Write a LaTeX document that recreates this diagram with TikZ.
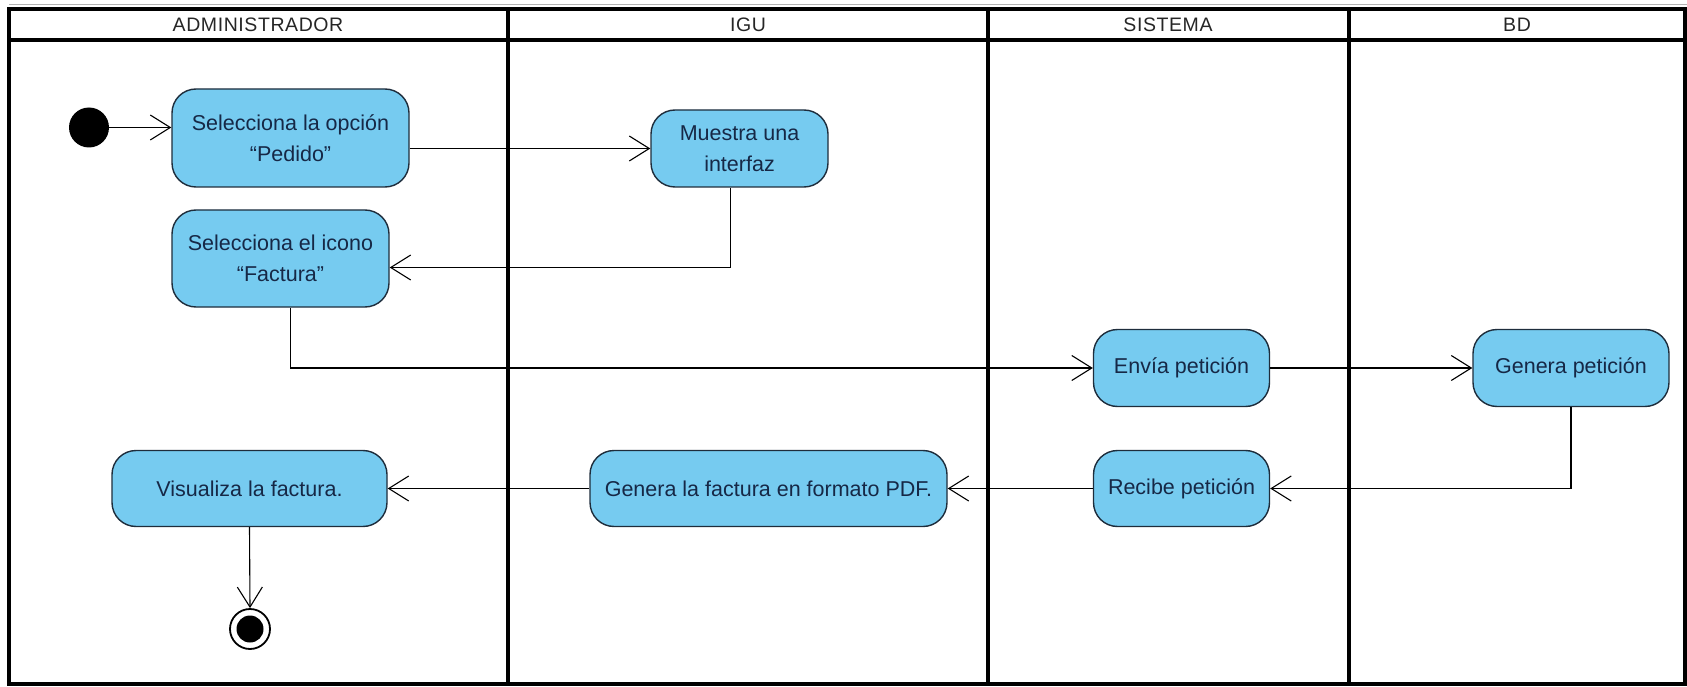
\documentclass[tikz,border=0pt]{standalone}
\usepackage{fontspec}
\setmainfont{Liberation Sans}
\usetikzlibrary{arrows.meta}
\definecolor{actfill}{RGB}{118,203,240}
\definecolor{acttext}{RGB}{22,40,70}
\definecolor{actline}{RGB}{30,45,60}
\begin{document}
\begin{tikzpicture}[x=1pt,y=-1pt,
  act/.style={draw=actline, line width=1.4pt, fill=actfill, rounded corners=24pt,
    text=acttext, font=\fontsize{21.5}{31}\selectfont, align=center, inner sep=0pt},
  lane/.style={draw=black, line width=3.2pt},
  head/.style={font=\fontsize{19.5}{22}\selectfont\addfontfeature{LetterSpace=3}, text=black!85},
  flow/.style={draw=black, line width=1.1pt, -{Straight Barb[length=20pt,width=25pt]}}]
\useasboundingbox (0,0) rectangle (1687,687);
% swimlanes
\draw[black!30, line width=1pt] (9,5) -- (1687,5);
\draw[lane] (9,9) rectangle (1685,684);
\draw[lane] (9,40) -- (1685,40);
\draw[lane] (508,9) -- (508,684);
\draw[lane] (988,9) -- (988,684);
\draw[lane] (1349,9) -- (1349,684);
\node[head] (hAdm) at (258,24.5) {ADMINISTRADOR};
\node[head] (hIgu) at (748,24.5) {IGU};
\node[head] (hSis) at (1168,24.5) {SISTEMA};
\node[head] (hBd)  at (1517,24.5) {BD};
% nodes
\node[circle, fill=black, minimum size=40pt, inner sep=0pt] (init) at (89,127.5) {};
\node[act, minimum width=237pt, minimum height=98pt] (pedido) at (290.5,138) {Selecciona la opción\\“Pedido”};
\node[act, minimum width=177pt, minimum height=77pt] (muestra) at (739.5,148.5) {Muestra una\\interfaz};
\node[act, minimum width=217pt, minimum height=97pt] (factura) at (280.5,258.5) {Selecciona el icono\\“Factura”};
\node[act, minimum width=176pt, minimum height=77pt] (envia) at (1181.5,368) {Envía petición};
\node[act, minimum width=196pt, minimum height=77pt] (genpet) at (1571,368) {Genera petición};
\node[act, minimum width=176pt, minimum height=76pt] (recibe) at (1181.5,488.5) {Recibe petición};
\node[act, minimum width=357pt, minimum height=76pt] (pdf) at (768.5,488.5) {Genera la factura en formato PDF.};
\node[act, minimum width=275pt, minimum height=76pt] (visual) at (249.5,488.5) {Visualiza la factura.};
\node[circle, draw=black, fill=white, line width=1.8pt, minimum size=40pt, inner sep=0pt] (final) at (250,629) {};
\fill[black] (final.center) circle (13.5pt);
% connectors
\draw[flow] (init.east) -- (init.east -| pedido.west);
\draw[flow] (muestra.west -| pedido.east) -- (muestra.west);
\draw[flow] ([xshift=-9pt]muestra.south) |- ([yshift=-9pt]factura.east);
\draw[flow] ([xshift=10pt]factura.south) |- (envia.west);
\draw[flow] (envia.east) -- (genpet.west);
\draw[flow] (genpet.south) |- (recibe.east);
\draw[flow] (recibe.west) -- (pdf.east);
\draw[flow] (pdf.west) -- (visual.east);
\draw[flow] (visual.south) -- (final.north);
\end{tikzpicture}
\end{document}
